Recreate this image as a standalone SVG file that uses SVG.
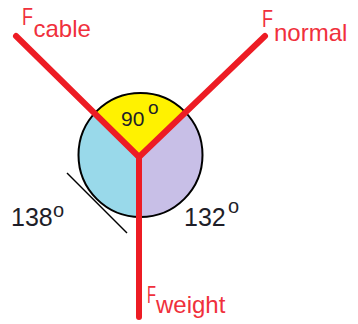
<svg xmlns="http://www.w3.org/2000/svg" width="358" height="324" viewBox="0 0 358 324">
<style>
.lbl{font-family:"Liberation Sans",Arial,sans-serif;font-size:24px;fill:#F0303C}
.ang{font-family:"Liberation Sans",Arial,sans-serif;fill:#1E1E28}
.force{stroke:#ED1C24;stroke-width:6;stroke-linecap:round;fill:none}
</style>
<defs>
<clipPath id="cc"><circle cx="140.5" cy="155" r="62"/></clipPath>
</defs>
<rect width="358" height="324" fill="#fff"/>
<g id="body">
<circle cx="140.5" cy="155" r="62" fill="#99D9EA"/>
<g clip-path="url(#cc)">
<polygon points="139,157 16,36 265,36" fill="#FFF200"/>
<polygon points="139,157 265,36 320,36 320,300 139,300" fill="#C8BFE7"/>
</g>
<circle cx="140.5" cy="155" r="62" fill="none" stroke="#000" stroke-width="2"/>
<line x1="67" y1="173" x2="127" y2="233" stroke="#000" stroke-width="1.5"/>
</g>
<g id="connectors">
<line class="force" x1="16" y1="36" x2="139" y2="157"/>
<line class="force" x1="265" y1="36" x2="139" y2="157"/>
<line class="force" x1="139" y1="157" x2="139" y2="317"/>
</g>
<g id="label-cable"><text class="lbl" x="22" y="25" textLength="11" lengthAdjust="spacingAndGlyphs">F</text><text class="lbl" x="33.5" y="37">cable</text></g>
<g id="label-normal"><text class="lbl" x="262" y="27" textLength="11" lengthAdjust="spacingAndGlyphs">F</text><text class="lbl" x="274" y="41">normal</text></g>
<g id="label-weight"><text class="lbl" x="147" y="303" textLength="9" lengthAdjust="spacingAndGlyphs">F</text><text class="lbl" x="156" y="313">weight</text></g>
<g id="angle-90"><text class="ang" x="121" y="126" font-size="21">90</text><text class="ang" x="148" y="114" font-size="19">o</text></g>
<g id="angle-138"><text class="ang" x="11" y="226" font-size="25">138</text><text class="ang" x="53" y="217" font-size="20">o</text></g>
<g id="angle-132"><text class="ang" x="184" y="226" font-size="25">132</text><text class="ang" x="228" y="213" font-size="20">o</text></g>
</svg>
